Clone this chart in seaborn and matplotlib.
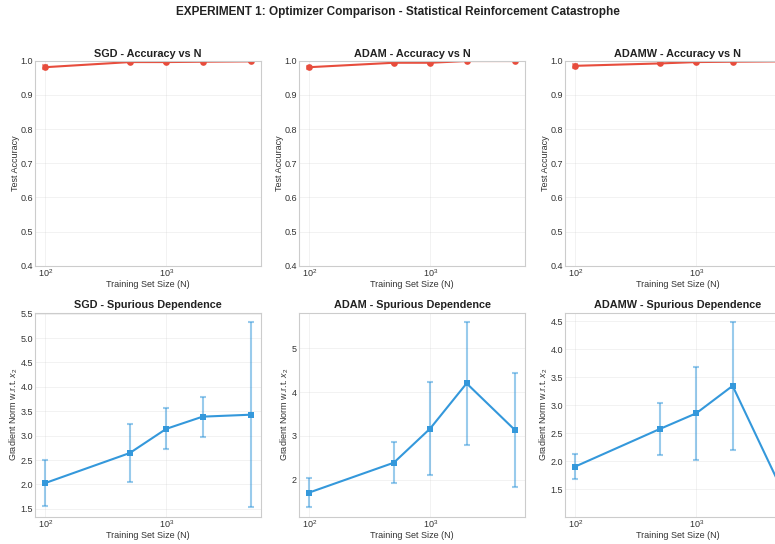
import numpy as np
import pandas as pd
import matplotlib
matplotlib.use("Agg")
import matplotlib.pyplot as plt
import seaborn as sns

# training set sizes
n_values = [100, 500, 1000, 2000, 5000]
optimizers = ["SGD", "ADAM", "ADAMW"]

# test accuracy (mean, std) per optimizer
acc_sgd = [0.981, 0.996, 0.996, 0.997, 0.998]
acc_sgd_std = [0.006, 0.002, 0.002, 0.002, 0.001]
acc_adam = [0.981, 0.994, 0.994, 0.999, 0.999]
acc_adam_std = [0.004, 0.003, 0.003, 0.001, 0.001]
acc_adamw = [0.985, 0.992, 0.996, 0.997, 0.998]
acc_adamw_std = [0.005, 0.003, 0.002, 0.002, 0.001]

# gradient norm w.r.t. x2 (mean, std)
grad_sgd = [2.03, 2.645, 3.14, 3.39, 3.43]
grad_sgd_std = [0.48, 0.59, 0.42, 0.41, 1.90]
grad_adam = [1.71, 2.39, 3.17, 4.20, 3.14]
grad_adam_std = [0.34, 0.47, 1.05, 1.40, 1.30]
grad_adamw = [1.91, 2.58, 2.86, 3.35, 1.54]
grad_adamw_std = [0.22, 0.46, 0.83, 1.14, 0.36]

acc_means = {"SGD": acc_sgd, "ADAM": acc_adam, "ADAMW": acc_adamw}
acc_stds = {"SGD": acc_sgd_std, "ADAM": acc_adam_std, "ADAMW": acc_adamw_std}
grad_means = {"SGD": grad_sgd, "ADAM": grad_adam, "ADAMW": grad_adamw}
grad_stds = {"SGD": grad_sgd_std, "ADAM": grad_adam_std, "ADAMW": grad_adamw_std}

RED = "#e74c3c"
BLUE = "#3498db"

sns.set_style("whitegrid")
plt.rcParams["font.family"] = ["Liberation Sans", "DejaVu Sans"]
plt.rcParams["mathtext.fontset"] = "custom"
plt.rcParams["mathtext.rm"] = "Liberation Sans"
plt.rcParams["mathtext.it"] = "Liberation Sans:italic"
plt.rcParams["axes.edgecolor"] = "#cccccc"
plt.rcParams["text.color"] = "#222222"
plt.rcParams["axes.labelcolor"] = "#333333"
plt.rcParams["xtick.color"] = "#333333"
plt.rcParams["ytick.color"] = "#333333"

fig, axes = plt.subplots(2, 3, figsize=(7.75, 5.44), dpi=100)

lefts = [35 / 775, 299 / 775, 565 / 775]
width = 226 / 775
row_bottom = [1 - 265.7 / 544, 1 - 516.7 / 544]
row_height = [205 / 544, 204 / 544]


def draw_panel(ax, means, stds, color, marker, ms):
    df = pd.DataFrame({"N": n_values, "val": means})
    ax.errorbar(n_values, means, yerr=stds, fmt="none", ecolor=color,
                alpha=0.5, capsize=2.5, elinewidth=1.5, capthick=1.5)
    sns.lineplot(data=df, x="N", y="val", ax=ax, color=color, marker=marker,
                 markersize=ms, markeredgewidth=0, linewidth=1.5)


for col, opt in enumerate(optimizers):
    ax = axes[0, col]
    ax.set_position([lefts[col], row_bottom[0], width, row_height[0]])
    draw_panel(ax, acc_means[opt], acc_stds[opt], RED, "o", 4.8)
    ax.set_xscale("log")
    ax.set_ylim(0.4, 1.0)
    ax.set_title(f"{opt} - Accuracy vs N", fontsize=7.8, fontweight="bold", pad=2.5)
    ax.set_xlabel("Training Set Size (N)", fontsize=6.5, labelpad=0.5)
    ax.set_ylabel("Test Accuracy", fontsize=6.5, labelpad=0.5)

    ax = axes[1, col]
    ax.set_position([lefts[col], row_bottom[1], width, row_height[1]])
    draw_panel(ax, grad_means[opt], grad_stds[opt], BLUE, "s", 4)
    ax.set_xscale("log")
    ax.set_title(f"{opt} - Spurious Dependence", fontsize=7.8, fontweight="bold", pad=3.5)
    ax.set_xlabel("Training Set Size (N)", fontsize=6.5, labelpad=0.5)
    ax.set_ylabel("Gradient Norm w.r.t. $x_2$", fontsize=6.5, labelpad=0.5)

for ax in axes.flat:
    ax.tick_params(which="both", labelsize=6.5, pad=1.5, length=0)
    ax.grid(True, alpha=0.3, linewidth=0.6)
    ax.xaxis.grid(True, which="minor", alpha=0)
    for s in ax.spines.values():
        s.set_linewidth(0.8)

fig.suptitle("EXPERIMENT 1: Optimizer Comparison - Statistical Reinforcement Catastrophe",
             fontsize=8.5, fontweight="bold", x=397.5 / 775, y=1 - 12 / 544, va="center")

fig.savefig("out.png", dpi=100)
